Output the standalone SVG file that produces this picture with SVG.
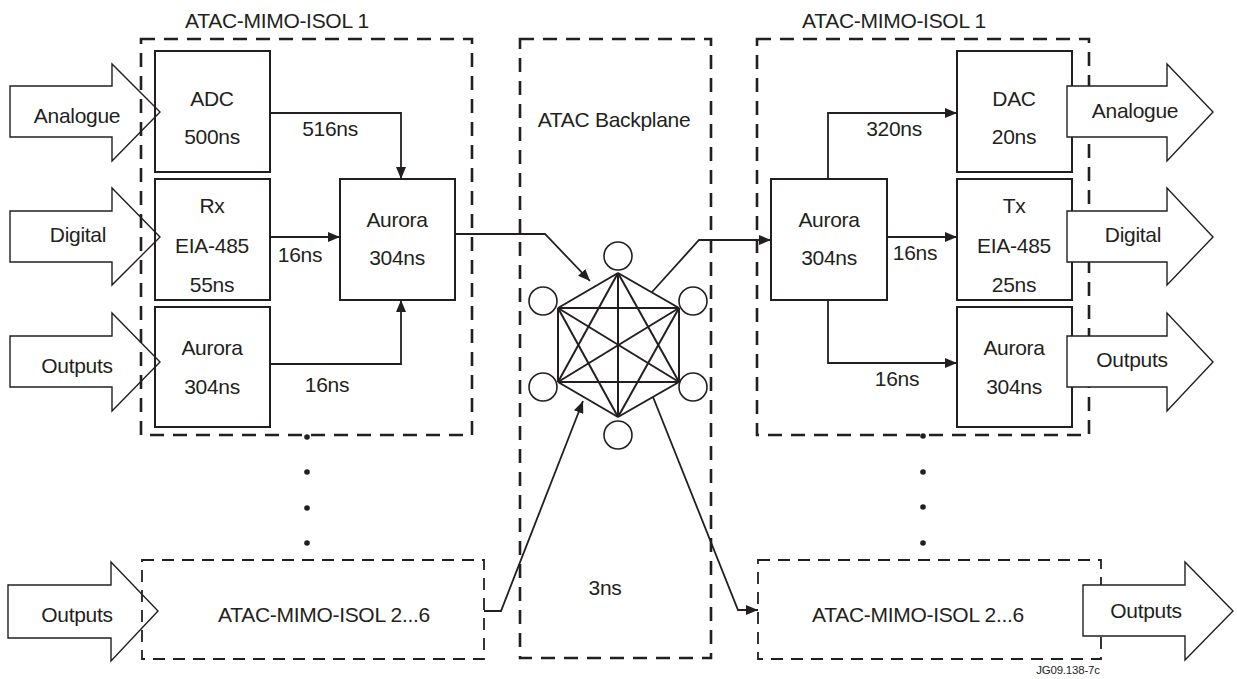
<svg xmlns="http://www.w3.org/2000/svg" width="1237" height="679" viewBox="0 0 1237 679">
<defs>
<style>
text{font-family:"Liberation Sans",Arial,Helvetica,sans-serif;font-size:21px;fill:#231f20;letter-spacing:-0.3px;text-anchor:middle}
.small{font-size:11.5px;letter-spacing:-0.2px}
.mod{fill:none;stroke:#231f20;stroke-width:2.6;stroke-dasharray:14 9}
.sub{fill:none;stroke:#231f20;stroke-width:1.8;stroke-dasharray:12 8}
.box{fill:none;stroke:#231f20;stroke-width:2}
.inarrow{fill:none;stroke:#231f20;stroke-width:1.4}
.outarrow{fill:#fff;stroke:#231f20;stroke-width:1.4}
.con{fill:none;stroke:#231f20;stroke-width:1.8;marker-end:url(#ah)}
.mesh line{stroke:#231f20;stroke-width:2}
.ring{fill:#fff;stroke:#231f20;stroke-width:1.6}
.dot{fill:#231f20}
</style>
<marker id="ah" viewBox="0 0 12 10" refX="12" refY="5" markerWidth="12" markerHeight="10" markerUnits="userSpaceOnUse" orient="auto"><path d="M0,0L12,5L0,10z" fill="#231f20"/></marker>
</defs>
<rect width="1237" height="679" fill="#fff"/>

<!-- Left module ATAC-MIMO-ISOL 1 -->
<g id="left-module">
  <rect class="mod" x="141" y="39" width="331" height="396"/>
  <text x="277" y="28">ATAC-MIMO-ISOL 1</text>
  <circle class="dot" cx="307" cy="437" r="2.8"/>
</g>

<!-- Input arrows -->
<g id="in-analogue">
  <polygon class="inarrow" points="10,86 112,86 112,64 160,112 112,161 112,137 10,137"/>
  <text x="77" y="123">Analogue</text>
</g>
<g id="in-digital">
  <polygon class="inarrow" points="10,211 112,211 112,188 160,237 112,285 112,262 10,262"/>
  <text x="78" y="242">Digital</text>
</g>
<g id="in-outputs">
  <polygon class="inarrow" points="10,336 112,336 112,313 160,362 112,411 112,387 10,387"/>
  <text x="77" y="373">Outputs</text>
</g>

<g id="adc">
  <rect class="box" x="155" y="51" width="115" height="121"/>
  <text x="212" y="106">ADC</text>
  <text x="212" y="144">500ns</text>
</g>
<g id="rx">
  <rect class="box" x="155" y="179" width="115" height="121"/>
  <text x="212" y="213">Rx</text>
  <text x="212" y="253">EIA-485</text>
  <text x="212" y="292">55ns</text>
</g>
<g id="aurora-in">
  <rect class="box" x="155" y="307" width="115" height="120"/>
  <text x="212" y="355">Aurora</text>
  <text x="212" y="394">304ns</text>
</g>
<g id="aurora-left">
  <rect class="box" x="340" y="179" width="115" height="121"/>
  <text x="397" y="227">Aurora</text>
  <text x="397" y="265">304ns</text>
</g>

<!-- Backplane -->
<g id="backplane">
  <rect class="mod" x="520" y="39" width="191" height="619"/>
  <text x="614" y="127">ATAC Backplane</text>
  <text x="605" y="595">3ns</text>
</g>
<g id="mesh" class="mesh">
  <line x1="618" y1="273" x2="558" y2="308"/>
  <line x1="618" y1="273" x2="679" y2="308"/>
  <line x1="618" y1="273" x2="558" y2="382"/>
  <line x1="618" y1="273" x2="679" y2="382"/>
  <line x1="618" y1="273" x2="618" y2="417"/>
  <line x1="558" y1="308" x2="679" y2="308"/>
  <line x1="558" y1="308" x2="558" y2="382"/>
  <line x1="558" y1="308" x2="679" y2="382"/>
  <line x1="558" y1="308" x2="618" y2="417"/>
  <line x1="679" y1="308" x2="558" y2="382"/>
  <line x1="679" y1="308" x2="679" y2="382"/>
  <line x1="679" y1="308" x2="618" y2="417"/>
  <line x1="558" y1="382" x2="679" y2="382"/>
  <line x1="558" y1="382" x2="618" y2="417"/>
  <line x1="679" y1="382" x2="618" y2="417"/>
  <circle class="ring" cx="618" cy="256" r="14"/>
  <circle class="ring" cx="543" cy="301" r="14"/>
  <circle class="ring" cx="693" cy="301" r="14"/>
  <circle class="ring" cx="543" cy="387" r="14"/>
  <circle class="ring" cx="693" cy="387" r="14"/>
  <circle class="ring" cx="618" cy="435" r="14"/>
</g>

<!-- Right module -->
<g id="right-module">
  <rect class="mod" x="757" y="39" width="332" height="396"/>
  <text x="894" y="28">ATAC-MIMO-ISOL 1</text>
  <circle class="dot" cx="923" cy="436" r="2.8"/>
</g>
<g id="aurora-right">
  <rect class="box" x="771" y="179" width="116" height="121"/>
  <text x="829" y="227">Aurora</text>
  <text x="829" y="265">304ns</text>
</g>
<g id="dac">
  <rect class="box" x="957" y="51" width="115" height="121"/>
  <text x="1014" y="106">DAC</text>
  <text x="1014" y="144">20ns</text>
</g>
<g id="tx">
  <rect class="box" x="957" y="179" width="115" height="121"/>
  <text x="1014" y="213">Tx</text>
  <text x="1014" y="253">EIA-485</text>
  <text x="1014" y="292">25ns</text>
</g>
<g id="aurora-out">
  <rect class="box" x="957" y="307" width="115" height="120"/>
  <text x="1014" y="355">Aurora</text>
  <text x="1014" y="394">304ns</text>
</g>

<!-- Lower modules -->
<g id="lower-left-module">
  <rect class="sub" x="142" y="560" width="342" height="99"/>
  <text x="324" y="622">ATAC-MIMO-ISOL 2...6</text>
</g>
<g id="lower-right-module">
  <rect class="sub" x="758" y="560" width="343" height="99"/>
  <text x="918" y="622">ATAC-MIMO-ISOL 2...6</text>
</g>
<g id="in-outputs-lower">
  <polygon class="inarrow" points="8,585 111,585 111,562 158,611 111,661 111,638 8,638"/>
  <text x="77" y="622">Outputs</text>
</g>

<!-- ellipsis dots -->
<g id="ellipsis">
  <circle class="dot" cx="307" cy="472" r="2.8"/>
  <circle class="dot" cx="307" cy="508" r="2.8"/>
  <circle class="dot" cx="307" cy="543" r="2.8"/>
  <circle class="dot" cx="923" cy="472" r="2.8"/>
  <circle class="dot" cx="923" cy="507" r="2.8"/>
  <circle class="dot" cx="923" cy="543" r="2.8"/>
</g>

<!-- Output arrows (drawn over boxes) -->
<g id="out-analogue">
  <polygon class="outarrow" points="1067,86 1167,86 1167,64 1213,112 1167,161 1167,137 1067,137"/>
  <text x="1135" y="118">Analogue</text>
</g>
<g id="out-digital">
  <polygon class="outarrow" points="1067,211 1167,211 1167,188 1213,237 1167,285 1167,262 1067,262"/>
  <text x="1133" y="242">Digital</text>
</g>
<g id="out-outputs">
  <polygon class="outarrow" points="1067,336 1167,336 1167,313 1213,362 1167,411 1167,387 1067,387"/>
  <text x="1132" y="367">Outputs</text>
</g>
<g id="out-outputs-lower">
  <polygon class="outarrow" points="1083,585 1185,585 1185,562 1233,611 1185,660 1185,636 1083,636"/>
  <text x="1146" y="618">Outputs</text>
</g>

<!-- Connectors -->
<g id="connectors">
  <path class="con" d="M270,113 H401 V179"/>
  <path class="con" d="M270,237 H340"/>
  <path class="con" d="M270,364 H401 V300"/>
  <path class="con" d="M455,234 H545 L590,281"/>
  <path class="con" d="M652,292 L699,240 H771"/>
  <path class="con" d="M828,179 V113 H957"/>
  <path class="con" d="M887,237 H957"/>
  <path class="con" d="M828,300 V363 H957"/>
  <path class="con" d="M484,611 H501 L583,401"/>
  <path class="con" d="M653,397 L738,610 H758"/>
  <text x="330" y="136">516ns</text>
  <text x="300" y="262">16ns</text>
  <text x="327" y="392">16ns</text>
  <text x="894" y="136">320ns</text>
  <text x="915" y="260">16ns</text>
  <text x="897" y="386">16ns</text>
</g>

<text class="small" x="1068" y="674">JG09.138-7c</text>
</svg>
